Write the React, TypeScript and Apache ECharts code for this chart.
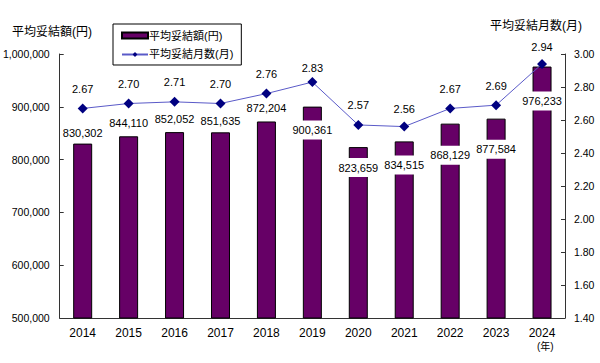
import React, { useEffect, useRef } from "react";
import * as echarts from "echarts";

const years = ["2014", "2015", "2016", "2017", "2018", "2019", "2020", "2021", "2022", "2023", "2024"];
const amounts = [830302, 844110, 852052, 851635, 872204, 900361, 823659, 834515, 868129, 877584, 976233];
const months = [2.67, 2.7, 2.71, 2.7, 2.76, 2.83, 2.57, 2.56, 2.67, 2.69, 2.94];
const barLabelShift = [-1, -4, -4, -2, -4, 33, 30, 33, 41, 40, 44];
const lineLabelShift = [0, 0, 0, 0, 0, 5, 0, 2, 0, 0, 3];

const FONT = "'Liberation Sans', 'Noto Sans CJK JP', sans-serif";
const fmt = (v: number) => String(Math.round(v)).replace(/\B(?=(\d{3})+(?!\d))/g, ",");

export default function App() {
  const ref = useRef<HTMLDivElement>(null);
  useEffect(() => {
    if (!ref.current) return;
    document.body.style.margin = "0";
    const chart = echarts.init(ref.current, undefined, { renderer: "svg" });
    chart.setOption({
      animation: false,
      textStyle: { fontFamily: FONT },
      grid: { left: 59, right: 35, top: 54, bottom: 45 },
      legend: {
        left: 113,
        top: 24,
        orient: "vertical",
        borderColor: "#000",
        borderWidth: 1,
        padding: [6, 8, 5, 8],
        itemGap: 8,
        itemWidth: 26,
        itemHeight: 6,
        textStyle: { fontSize: 11, color: "#000", fontFamily: FONT, padding: [0, 0, 0, -4] },
        data: [
          { name: "平均妥結額(円)", icon: "rect" },
          { name: "平均妥結月数(月)" },
        ],
      },
      xAxis: {
        type: "category",
        data: years,
        axisLine: { lineStyle: { color: "#333" } },
        axisTick: { inside: true, length: 4, alignWithLabel: false, lineStyle: { color: "#333" } },
        axisLabel: { fontSize: 12, color: "#000", margin: 9 },
      },
      yAxis: [
        {
          type: "value",
          min: 500000,
          max: 1000000,
          interval: 100000,
          axisLine: { show: true, lineStyle: { color: "#333" } },
          axisTick: { show: true, inside: true, length: 4, lineStyle: { color: "#333" } },
          splitLine: { show: false },
          axisLabel: { fontSize: 10.5, color: "#000", margin: 10, formatter: (v: number) => fmt(v) },
        },
        {
          type: "value",
          min: 1.4,
          max: 3.0,
          interval: 0.2,
          position: "right",
          axisLine: { show: true, lineStyle: { color: "#333" } },
          axisTick: { show: true, inside: true, length: 4, lineStyle: { color: "#333" } },
          splitLine: { show: false },
          axisLabel: { fontSize: 10.5, color: "#000", margin: 9, formatter: (v: number) => v.toFixed(2) },
        },
      ],
      series: [
        {
          name: "平均妥結額(円)",
          type: "bar",
          yAxisIndex: 0,
          barWidth: 19,
          itemStyle: { color: "#660066", borderColor: "#000", borderWidth: 1 },
          data: amounts.map((v, i) => ({
            value: v,
            label: {
              show: true,
              position: "top",
              distance: 0,
              offset: [0, barLabelShift[i]],
              formatter: () => fmt(v),
              fontSize: 11,
              color: "#000",
              backgroundColor: "#fff",
              padding: [4, 2],
              fontFamily: FONT,
            },
          })),
        },
        {
          name: "平均妥結月数(月)",
          type: "line",
          yAxisIndex: 1,
          symbol: "diamond",
          symbolSize: 10,
          lineStyle: { color: "#5a5ac8", width: 1 },
          itemStyle: { color: "#000080" },
          data: months.map((v, i) => ({
            value: v,
            label: {
              show: true,
              position: "top",
              distance: 9,
              offset: [0, lineLabelShift[i]],
              formatter: () => v.toFixed(2),
              fontSize: 11,
              color: "#000",
              fontFamily: FONT,
            },
          })),
        },
      ],
      graphic: [
        { type: "text", left: 12, top: 26, style: { text: "平均妥結額(円)", fontSize: 12, fill: "#000", fontFamily: FONT } },
        { type: "text", left: 490, top: 20, style: { text: "平均妥結月数(月)", fontSize: 12, fill: "#000", fontFamily: FONT } },
        { type: "text", left: 537, top: 341, style: { text: "(年)", fontSize: 10, fill: "#000", fontFamily: FONT } },
      ],
    });
    return () => chart.dispose();
  }, []);
  return <div ref={ref} style={{ width: 600, height: 363 }} />;
}
